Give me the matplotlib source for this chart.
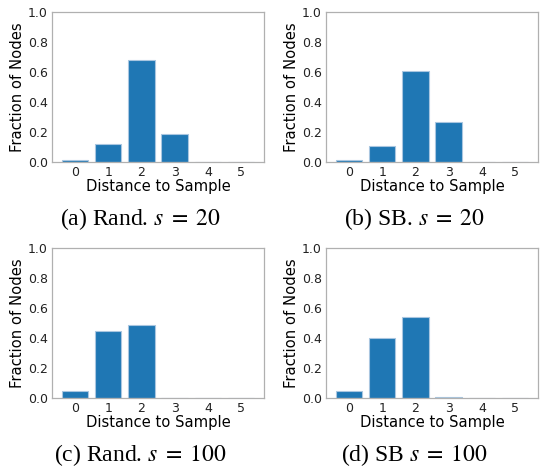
import numpy as np
import matplotlib.pyplot as plt

plt.rcParams['mathtext.fontset'] = 'stix'

distances = [0, 1, 2, 3, 4, 5]
rand_s20 = [0.012, 0.12, 0.68, 0.19, 0.0, 0.0]
sb_s20 = [0.012, 0.11, 0.61, 0.27, 0.0, 0.0]
rand_s100 = [0.05, 0.45, 0.49, 0.003, 0.0, 0.0]
sb_s100 = [0.05, 0.40, 0.54, 0.007, 0.0, 0.0]
captions = [r"(a) Rand. $s\;=\;20$", r"(b) SB. $s\;=\;20$",
            r"(c) Rand. $s\;=\;100$", r"(d) SB $s\;=\;100$"]
series = [rand_s20, sb_s20, rand_s100, sb_s100]

fig = plt.figure(figsize=(5.42, 4.75), dpi=100)
W, H = 542.0, 475.0
# axes boxes in pixels: left, top, right, bottom
boxes = [(52, 12, 264, 162), (326, 12, 538, 162),
         (52, 248, 264, 398), (326, 248, 538, 398)]

for box, vals, cap in zip(boxes, series, captions):
    l, t, r, b = box
    ax = fig.add_axes([l / W, 1 - b / H, (r - l) / W, (b - t) / H])
    ax.bar(distances, vals, width=0.8, color='#1f77b4',
           edgecolor='#a9c6e0', linewidth=0.8)
    ax.set_ylim(0, 1.0)
    ax.set_xticks(distances)
    ax.set_yticks([0, 0.2, 0.4, 0.6, 0.8, 1.0])
    ax.tick_params(length=0, labelsize=9, pad=3, colors='#222222')
    for s in ax.spines.values():
        s.set_color('#b0b0b0')
        s.set_linewidth(0.9)
    ax.set_xlabel("Distance to Sample", fontsize=10.6, labelpad=0)
    ax.set_ylabel("Fraction of Nodes", fontsize=10.6, labelpad=2)
    # caption under each panel
    cx = (l + r) / 2 - 18
    fig.text(cx / W, 1 - (b + 57) / H, cap, ha='center', va='center',
             fontsize=17, family='Liberation Serif')

fig.savefig("out.png", dpi=100)
